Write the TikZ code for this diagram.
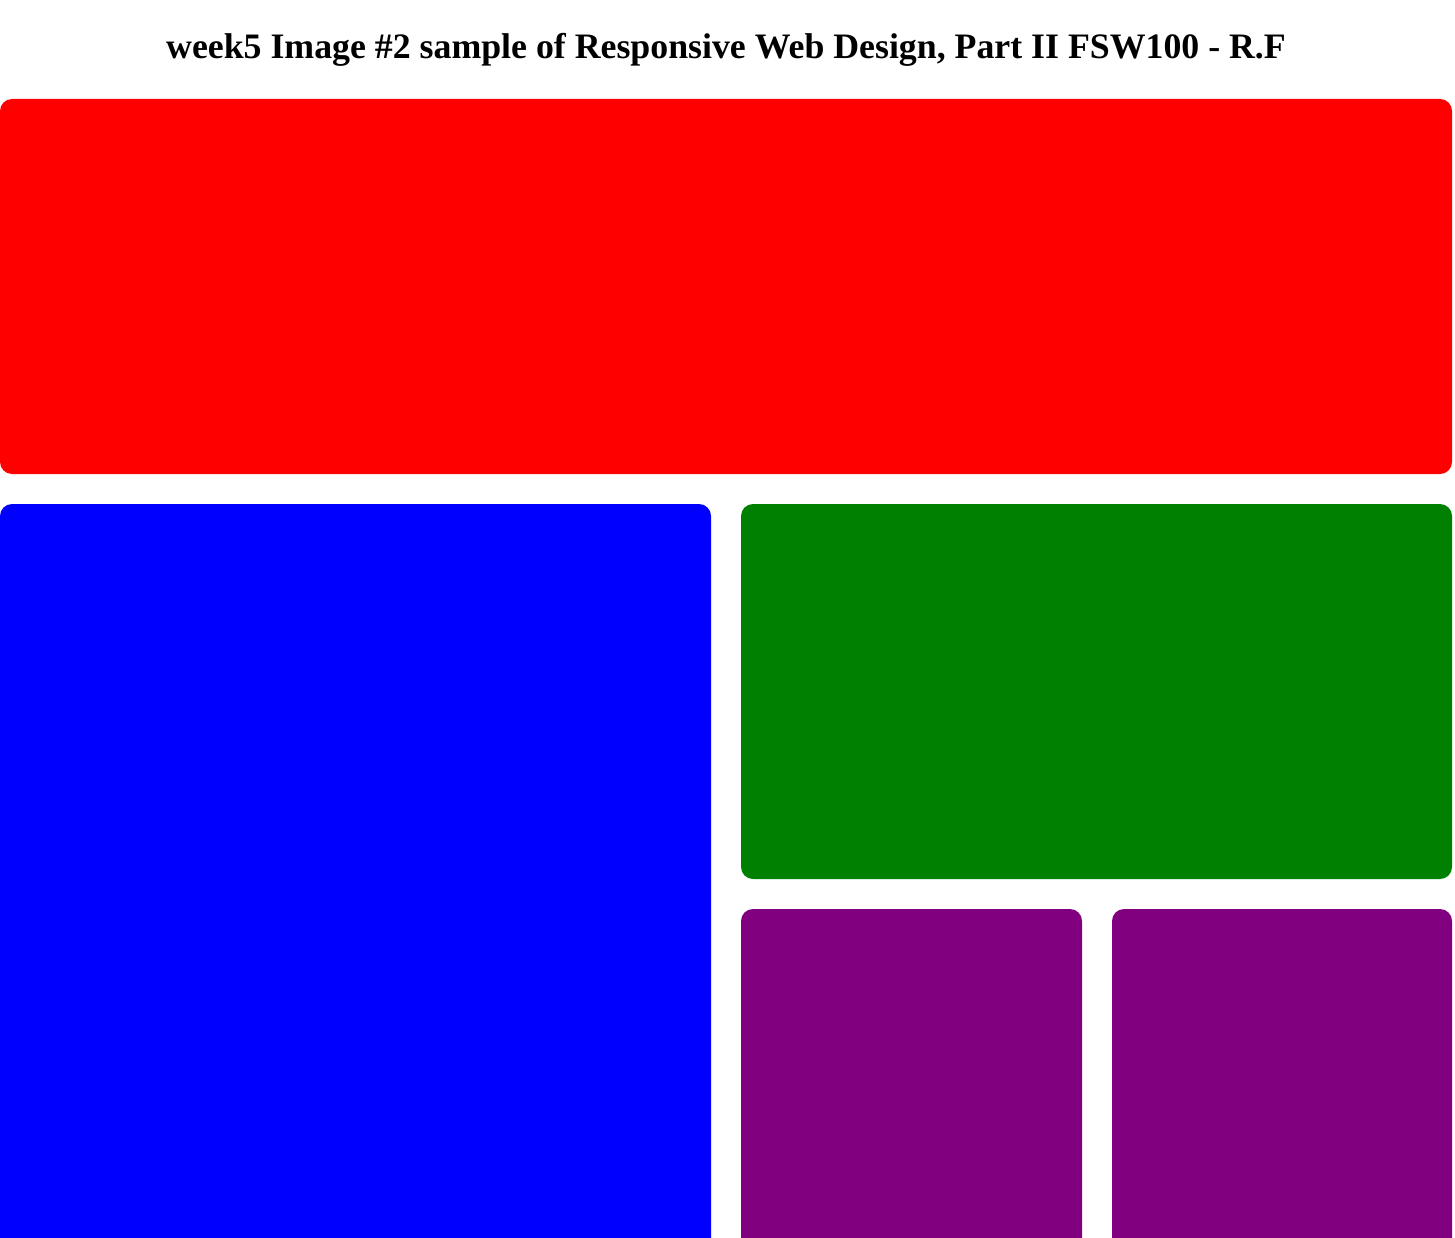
\documentclass[tikz,border=0pt]{standalone}
\usepackage{fontspec}
\setmainfont{Liberation Serif}
\usepackage{tikz}
\definecolor{BoxRed}{RGB}{255,0,0}
\definecolor{BoxBlue}{RGB}{0,0,255}
\definecolor{BoxGreen}{RGB}{0,128,0}
\definecolor{BoxPurple}{RGB}{128,0,128}
\tikzset{panel/.style={rounded corners=12pt}}
\begin{document}
\begin{tikzpicture}[x=1pt,y=-1pt]
\clip (0,0) rectangle (1455,1238);
\fill[white] (0,0) rectangle (1455,1238);
\node[anchor=base,inner sep=0pt,font=\fontsize{35.8}{42}\selectfont\bfseries] (title) at (726,59) {week5 Image \#2 sample of Responsive Web Design, Part II FSW100 - R.F};
\fill[panel,BoxRed] (0,99) rectangle (1452,474);
\fill[panel,BoxBlue] (0,504) rectangle (711,1270);
\fill[panel,BoxGreen] (741,504) rectangle (1452,879);
\fill[panel,BoxPurple] (741,909) rectangle (1082,1270);
\fill[panel,BoxPurple] (1112,909) rectangle (1452,1270);
\end{tikzpicture}
\end{document}
